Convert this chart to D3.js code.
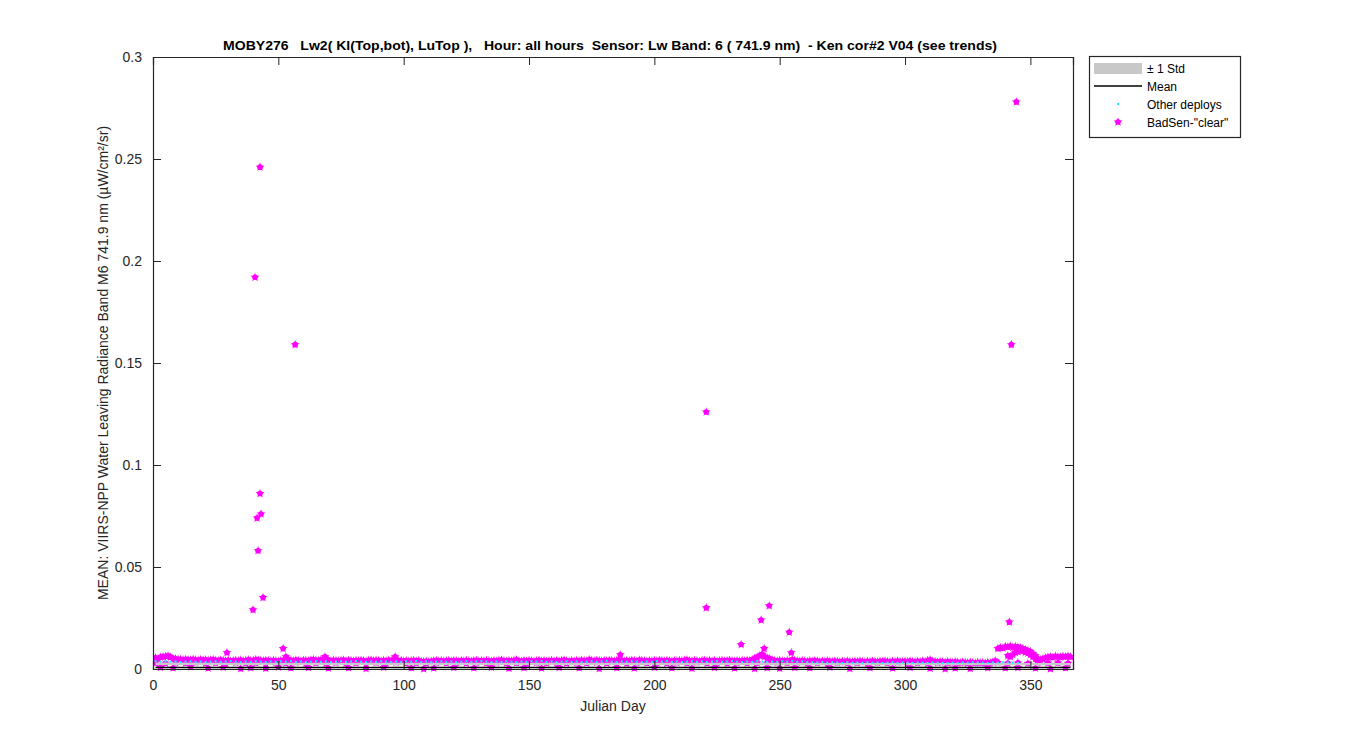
<!DOCTYPE html>
<html><head><meta charset="utf-8">
<script src="https://cdn.jsdelivr.net/npm/d3@7"></script>
<style>body{margin:0;background:#fff;font-family:"Liberation Sans",Arial,sans-serif;}</style>
</head><body><svg id="c" width="1350" height="750"></svg>
<script>
const titleText = 'MOBY276   Lw2( Kl(Top,bot), LuTop ),   Hour: all hours  Sensor: Lw Band: 6 ( 741.9 nm)  - Ken cor#2 V04 (see trends)';
const xLabel = 'Julian Day';
const yLabel = 'MEAN: VIIRS-NPP Water Leaving Radiance Band M6 741.9 nm (\u00b5W/cm\u00b2/sr)';
const xTicks = [0,50,100,150,200,250,300,350];
const yTicks = [0,0.05,0.1,0.15,0.2,0.25,0.3];
const yTickLabels = ['0','0.05','0.1','0.15','0.2','0.25','0.3'];
const legendLabels = ['\u00b1 1 Std','Mean','Other deploys','BadSen-"clear"'];

// grey std band knots (day, low, high)
const stdDays = [1,30,60,90,120,150,180,210,240,270,300,330,366];
const stdLow  = [0.0020,0.0020,0.0019,0.0019,0.0019,0.0019,0.0019,0.0019,0.0019,0.0018,0.0018,0.0018,0.0018];
const stdHigh = [0.0032,0.0031,0.0031,0.0031,0.0031,0.0031,0.0031,0.0031,0.0031,0.0030,0.0030,0.0030,0.0030];
const meanVals = [0.0007,0.0007,0.0007,0.0007,0.0007,0.0007,0.0007,0.0007,0.0007,0.0007,0.0007,0.0007,0.0007];

// cyan "other deploys": one value every 2 days starting day 1
const cyanVals = [
0.0038,0.0036,0.0039,0.0035,0.0037,0.0034,0.0036,0.0038,0.0035,0.0037,
0.0034,0.0036,0.0038,0.0035,0.0037,0.0039,0.0036,0.0034,0.0037,0.0035,
0.0038,0.0036,0.0034,0.0037,0.0035,0.0038,0.0036,0.0039,0.0035,0.0037,
0.0034,0.0036,0.0038,0.0035,0.0037,0.0034,0.0036,0.0038,0.0035,0.0037,
0.0039,0.0036,0.0034,0.0037,0.0035,0.0038,0.0036,0.0034,0.0037,0.0035,
0.0038,0.0036,0.0039,0.0035,0.0037,0.0034,0.0036,0.0038,0.0035,0.0037,
0.0034,0.0036,0.0038,0.0035,0.0037,0.0039,0.0036,0.0034,0.0037,0.0035,
0.0038,0.0036,0.0034,0.0037,0.0035,0.0038,0.0036,0.0039,0.0035,0.0037,
0.0034,0.0036,0.0038,0.0035,0.0037,0.0034,0.0036,0.0038,0.0035,0.0037,
0.0039,0.0036,0.0034,0.0037,0.0035,0.0038,0.0036,0.0034,0.0037,0.0035,
0.0038,0.0036,0.0039,0.0035,0.0037,0.0034,0.0036,0.0038,0.0035,0.0037,
0.0034,0.0036,0.0038,0.0035,0.0037,0.0039,0.0036,0.0034,0.0037,0.0035,
0.0038,0.0036,0.0034,0.0037,0.0035,0.0038,0.0036,0.0039,0.0035,0.0037,
0.0034,0.0033,0.0032,0.0034,0.0031,0.0033,0.0032,0.0030,0.0033,0.0031,
0.0032,0.0030,0.0033,0.0031,0.0032,0.0030,0.0031,0.0033,0.0030,0.0032,
0.0031,0.0030,0.0032,0.0031,0.0030,0.0032,0.0031,0.0030,0.0029,0.0031,
0.0030,0.0032,0.0031,0.0033,0.0032,0.0031,0.0030,0.0032,0.0031,0.0033,
0.0032,0.0031,0.0030];

// magenta BadSen-"clear" upper band: one value per day, starting day 1
const badUpper = [
0.0055,0.0050,0.0058,0.0060,0.0062,0.0065,0.0058,0.0052,0.0050,0.0048,
0.0047,0.0045,0.0048,0.0046,0.0044,0.0047,0.0045,0.0043,0.0046,0.0044,
0.0045,0.0042,0.0044,0.0046,0.0043,0.0041,0.0044,0.0042,0.0040,0.0043,
0.0038,0.0041,0.0043,0.0040,0.0044,0.0039,0.0042,0.0045,0.0041,0.0043,
0.0046,0.0044,0.0042,0.0040,0.0043,0.0041,0.0039,0.0042,0.0040,0.0038,
0.0041,0.0043,0.0045,0.0048,0.0042,0.0040,0.0044,0.0041,0.0039,0.0043,
0.0042,0.0040,0.0044,0.0046,0.0043,0.0041,0.0045,0.0048,0.0050,0.0042,
0.0040,0.0043,0.0041,0.0039,0.0042,0.0044,0.0040,0.0043,0.0041,0.0039,
0.0042,0.0040,0.0043,0.0041,0.0038,0.0042,0.0044,0.0040,0.0043,0.0041,
0.0039,0.0042,0.0040,0.0043,0.0041,0.0047,0.0044,0.0040,0.0042,0.0039,
0.0041,0.0038,0.0040,0.0042,0.0039,0.0041,0.0037,0.0036,0.0038,0.0035,
0.0038,0.0040,0.0042,0.0039,0.0041,0.0038,0.0040,0.0042,0.0039,0.0041,
0.0040,0.0038,0.0041,0.0039,0.0042,0.0040,0.0038,0.0041,0.0043,0.0039,
0.0041,0.0039,0.0042,0.0040,0.0038,0.0041,0.0039,0.0042,0.0044,0.0040,
0.0038,0.0041,0.0039,0.0042,0.0045,0.0040,0.0038,0.0041,0.0039,0.0042,
0.0040,0.0038,0.0041,0.0043,0.0039,0.0041,0.0038,0.0040,0.0042,0.0039,
0.0041,0.0039,0.0042,0.0044,0.0040,0.0038,0.0041,0.0039,0.0042,0.0040,
0.0043,0.0041,0.0039,0.0046,0.0042,0.0040,0.0043,0.0041,0.0039,0.0042,
0.0040,0.0043,0.0041,0.0039,0.0042,0.0045,0.0041,0.0039,0.0042,0.0040,
0.0043,0.0041,0.0039,0.0044,0.0042,0.0040,0.0038,0.0041,0.0039,0.0042,
0.0040,0.0043,0.0041,0.0039,0.0042,0.0040,0.0038,0.0041,0.0039,0.0042,
0.0040,0.0043,0.0045,0.0041,0.0039,0.0042,0.0040,0.0038,0.0041,0.0043,
0.0040,0.0042,0.0039,0.0041,0.0038,0.0040,0.0042,0.0039,0.0041,0.0043,
0.0040,0.0038,0.0041,0.0039,0.0042,0.0040,0.0043,0.0041,0.0046,0.0052,
0.0058,0.0065,0.0072,0.0060,0.0055,0.0048,0.0044,0.0041,0.0039,0.0042,
0.0040,0.0038,0.0041,0.0039,0.0046,0.0042,0.0040,0.0038,0.0041,0.0039,
0.0037,0.0040,0.0038,0.0041,0.0039,0.0036,0.0039,0.0037,0.0040,0.0038,
0.0036,0.0039,0.0037,0.0035,0.0038,0.0036,0.0039,0.0037,0.0035,0.0038,
0.0036,0.0039,0.0037,0.0035,0.0038,0.0036,0.0039,0.0037,0.0035,0.0038,
0.0036,0.0039,0.0037,0.0035,0.0038,0.0036,0.0039,0.0037,0.0035,0.0038,
0.0036,0.0039,0.0037,0.0035,0.0038,0.0036,0.0039,0.0037,0.0042,0.0045,
0.0038,0.0036,0.0034,0.0037,0.0035,0.0033,0.0036,0.0034,0.0032,0.0035,
0.0033,0.0031,0.0034,0.0032,0.0030,0.0033,0.0031,0.0029,0.0032,0.0030,
0.0031,0.0029,0.0032,0.0030,0.0034,0.0040,0.0100,0.0105,0.0102,0.0110,
0.0108,0.0112,0.0106,0.0110,0.0108,0.0104,0.0100,0.0095,0.0090,0.0085,
0.0075,0.0065,0.0050,0.0045,0.0050,0.0055,0.0058,0.0060,0.0057,0.0062,
0.0060,0.0058,0.0062,0.0060,0.0063,0.0059];

// magenta middle band (inside the cyan/grey band), one value every 4 days from day 1
const badMid = [
0.0030,0.0028,0.0031,0.0029,0.0032,0.0028,0.0030,0.0027,0.0031,0.0029,
0.0030,0.0028,0.0031,0.0029,0.0032,0.0028,0.0030,0.0027,0.0031,0.0029,
0.0030,0.0028,0.0031,0.0029,0.0032,0.0028,0.0030,0.0027,0.0031,0.0029,
0.0030,0.0028,0.0031,0.0029,0.0032,0.0028,0.0030,0.0027,0.0031,0.0029,
0.0030,0.0028,0.0031,0.0029,0.0032,0.0028,0.0030,0.0027,0.0031,0.0029,
0.0030,0.0028,0.0031,0.0029,0.0032,0.0028,0.0030,0.0027,0.0031,0.0029,
0.0030,0.0028,0.0031,0.0029,0.0032,0.0028,0.0030,0.0027,0.0031,0.0029,
0.0030,0.0028,0.0031,0.0029,0.0032,0.0028,0.0030,0.0027,0.0031,0.0029,
0.0030,0.0028,0.0031,0.0029,0.0032,0.0028,0.0030,0.0027,0.0031,0.0029,
0.0030,0.0028];

// magenta scattered points [day, value]
const badScatter = [
[42.7,0.246],[40.7,0.192],[56.7,0.159],[42.7,0.086],[43.1,0.076],[41.5,0.074],
[41.9,0.058],[43.9,0.035],[39.9,0.029],[220.7,0.126],[220.7,0.030],[245.8,0.031],
[242.6,0.024],[253.8,0.018],[234.6,0.012],[243.8,0.010],[344.4,0.278],[342.4,0.159],
[341.6,0.023],[51.9,0.010],[29.5,0.008],[96.6,0.006],[186.4,0.007],[68.6,0.006],
[254.6,0.008],[53,0.006],[69,0.005],[246,0.005],
[341,0.0065],[342,0.0060],[343,0.0070],[344,0.0080],[345,0.0085],[346,0.0090],
[347,0.0088],[348,0.0082],[349,0.0078],[350,0.0070],[351,0.0060],[352,0.0050],
[3,0.0008],[8,0.0005],[15,0.0010],[22,0.0004],[28,0.0008],[35,0.0002],[39,0.0006],
[45,0.0003],[50,0.0009],[55,0.0005],[62,0.0007],[70,0.0004],[78,0.0006],[85,0.0002],
[92,0.0008],[103,0.0005],[108,0.0001],[112,0.0004],[120,0.0007],[128,0.0005],[135,0.0008],
[142,0.0003],[148,0.0006],[155,0.0004],[162,0.0007],[170,0.0005],[178,0.0002],[185,0.0006],
[192,0.0004],[200,0.0008],[207,0.0005],[215,0.0003],[224,0.0007],[232,0.0004],[240,0.0002],
[245,0.0006],[250,0.0003],[256,0.0007],[262,0.0005],[270,0.0008],[278,0.0002],[286,0.0006],
[295,0.0004],[302,0.0007],[310,0.0003],[316,0.0001],[320,0.0004],[326,0.0002],[333,0.0006],
[340,0.0005],[345,0.0007],[352,0.0004],[358,0.0001],[364,0.0005]];

const svg = d3.select('#c');
const m = {l:153, t:57, r:1073, b:669};
const x = d3.scaleLinear().domain([0,367]).range([m.l,m.r]);
const y = d3.scaleLinear().domain([0,0.3]).range([m.b,m.t]);
const F = '"Liberation Sans",Arial,sans-serif';

svg.append('defs').append('clipPath').attr('id','pc')
  .append('rect').attr('x',m.l).attr('y',m.t-4).attr('width',m.r-m.l).attr('height',m.b-m.t+8);
const plot = svg.append('g').attr('clip-path','url(#pc)');

const magenta = '#ff00ff';
function drawMarker(sel){
  sel.append('circle').attr('r',2.8).attr('fill',magenta);
  sel.append('path').attr('d', d3.symbol().type(d3.symbolStar).size(26)).attr('fill',magenta);
}
const upperPts = badUpper.map((v,i)=>[i+1,v]);
const midPts = badMid.map((v,i)=>[1+4*i,v]);
const allBad = upperPts.concat(midPts, badScatter);
plot.append('g').selectAll('g').data(allBad).join('g')
  .attr('transform', p=>`translate(${x(p[0])},${y(p[1])})`)
  .each(function(){ drawMarker(d3.select(this)); });

// std band and mean drawn over the lower markers
const bandData = stdDays.map((d,i)=>({d, lo:stdLow[i], hi:stdHigh[i], mn:meanVals[i]}));
plot.append('path').datum(bandData)
  .attr('d', d3.area().x(p=>x(p.d)).y0(p=>y(p.lo)).y1(p=>y(p.hi)))
  .attr('fill','#c8c8c8');
plot.append('path').datum(bandData)
  .attr('d', d3.line().x(p=>x(p.d)).y(p=>y(p.mn)))
  .attr('fill','none').attr('stroke','#000').attr('stroke-width',1.5);

// cyan dots
plot.append('g').selectAll('rect').data(cyanVals.map((v,i)=>[1+2*i,v])).join('rect')
  .attr('x',p=>x(p[0])-1).attr('y',p=>y(p[1])-1).attr('width',2).attr('height',2)
  .attr('fill','#00ffff');

// axes
const ax = svg.append('g');
const xb = d3.axisBottom(x).tickValues(xTicks).tickSize(-8).tickPadding(11).tickFormat(d3.format('d'));
const xt = d3.axisTop(x).tickValues(xTicks).tickSize(-8).tickFormat('');
const yl = d3.axisLeft(y).tickValues(yTicks).tickSize(-8).tickPadding(11).tickFormat((d,i)=>yTickLabels[i]);
const yr = d3.axisRight(y).tickValues(yTicks).tickSize(-8).tickFormat('');
[[xb,`translate(0,${m.b})`],[xt,`translate(0,${m.t})`],[yl,`translate(${m.l},0)`],[yr,`translate(${m.r},0)`]].forEach(([a,t])=>{
  const g = ax.append('g').attr('transform',t).call(a);
  g.select('.domain').attr('stroke','#262626').attr('stroke-width',1.2);
  g.selectAll('.tick line').attr('stroke','#262626');
  g.selectAll('text').attr('font-family',F).attr('font-size',14).attr('fill','#262626');
});

svg.append('text').attr('x',610).attr('y',50).attr('text-anchor','middle')
  .attr('font-family',F).attr('font-weight','bold').attr('font-size',13).attr('fill','#000')
  .attr('textLength',774).attr('lengthAdjust','spacingAndGlyphs').attr('xml:space','preserve')
  .style('white-space','pre').text(titleText);
svg.append('text').attr('x',(m.l+m.r)/2).attr('y',711).attr('text-anchor','middle')
  .attr('font-family',F).attr('font-size',14).attr('fill','#262626').text(xLabel);
svg.append('text').attr('transform',`translate(108,${(m.t+m.b)/2}) rotate(-90)`).attr('text-anchor','middle')
  .attr('font-family',F).attr('font-size',14).attr('fill','#262626').text(yLabel);

// legend
const lg = svg.append('g');
lg.append('rect').attr('x',1089.5).attr('y',56.5).attr('width',151).attr('height',81)
  .attr('fill','#fff').attr('stroke','#262626').attr('stroke-width',1.2);
lg.append('rect').attr('x',1094).attr('y',63).attr('width',48).attr('height',11).attr('fill','#c8c8c8');
lg.append('line').attr('x1',1094).attr('x2',1142).attr('y1',86).attr('y2',86).attr('stroke','#000').attr('stroke-width',1.5);
lg.append('rect').attr('x',1117).attr('y',103).attr('width',2).attr('height',2).attr('fill','#00ffff');
drawMarker(lg.append('g').attr('transform','translate(1118,122)'));
legendLabels.forEach((t,i)=>{
  lg.append('text').attr('x',1147).attr('y',73+i*18).attr('font-family',F).attr('font-size',12).attr('fill','#000').text(t);
});
</script></body></html>
